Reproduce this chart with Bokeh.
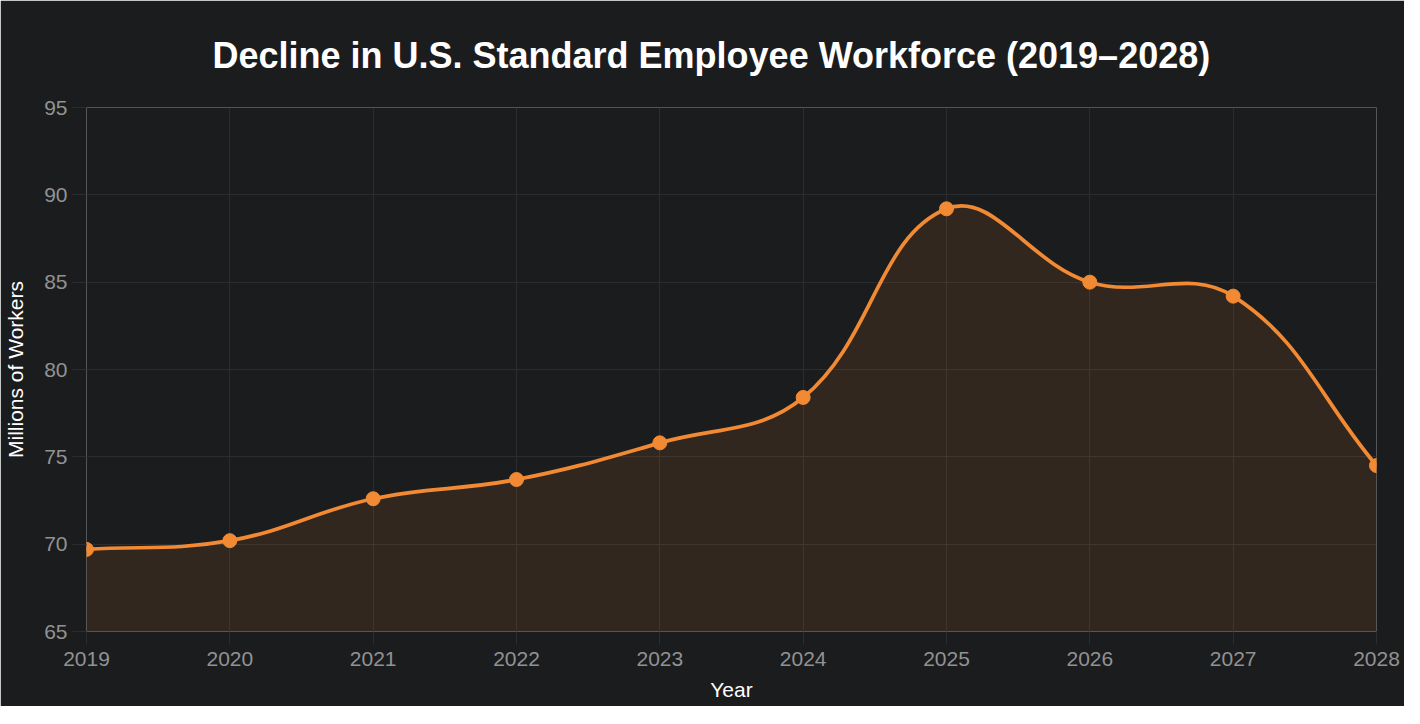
import numpy as np
from bokeh.plotting import figure
from bokeh.models import FixedTicker, ColumnDataSource
from bokeh.embed import file_html
from bokeh.resources import INLINE

# ---- data ----
years = [2019, 2020, 2021, 2022, 2023, 2024, 2025, 2026, 2027, 2028]
workers = [69.7, 70.2, 72.6, 73.7, 75.8, 78.4, 89.2, 85.0, 84.2, 74.5]
y_ticks = [65, 70, 75, 80, 85, 90, 95]
title_text = "Decline in U.S. Standard Employee Workforce (2019\u20132028)"
x_label = "Year"
y_label = "Millions of Workers"

BG = "#1b1c1e"
GRID = "#2c2d30"
ORANGE = "#f28a33"
TICK_TXT = "#929292"
FONT = "Liberation Sans"

W, H = 1404, 706
p = figure(width=W, height=H, output_backend="svg", toolbar_location=None,
           x_range=(2019, 2028), y_range=(65, 95),
           min_border_left=86, min_border_right=28,
           min_border_top=106, min_border_bottom=75)
p.background_fill_color = BG
p.border_fill_color = BG
p.outline_line_color = None

# ---- smooth curve (Chart.js-style spline, tension 0.4) from the data ----
xs = np.array(years, dtype=float)
ys = np.array(workers, dtype=float)
sx = 1290.0 / 9.0   # px per year (aspect only, for control-point weighting)
sy = 525.0 / 30.0   # px per million
X, Y = xs * sx, ys * sy
n = len(xs)
t = 0.4
prev_cp, next_cp = [], []
for i in range(n):
    i0 = i - 1 if i > 0 else i
    i2 = i + 1 if i < n - 1 else i
    d01 = np.hypot(X[i] - X[i0], Y[i] - Y[i0])
    d12 = np.hypot(X[i2] - X[i], Y[i2] - Y[i])
    tot = d01 + d12
    s01 = d01 / tot if tot else 0.0
    s12 = d12 / tot if tot else 0.0
    fa, fb = t * s01, t * s12
    dx, dy = X[i2] - X[i0], Y[i2] - Y[i0]
    prev_cp.append(((X[i] - fa * dx) / sx, (Y[i] - fa * dy) / sy))
    next_cp.append(((X[i] + fb * dx) / sx, (Y[i] + fb * dy) / sy))

seg = dict(x0=xs[:-1], y0=ys[:-1], x1=xs[1:], y1=ys[1:],
           cx0=[next_cp[i][0] for i in range(n - 1)],
           cy0=[next_cp[i][1] for i in range(n - 1)],
           cx1=[prev_cp[i + 1][0] for i in range(n - 1)],
           cy1=[prev_cp[i + 1][1] for i in range(n - 1)])

# fill polygon following the same bezier segments
tt = np.linspace(0, 1, 40)
fx, fy = [], []
for i in range(n - 1):
    P0 = np.array([seg["x0"][i], seg["y0"][i]])
    P1 = np.array([seg["cx0"][i], seg["cy0"][i]])
    P2 = np.array([seg["cx1"][i], seg["cy1"][i]])
    P3 = np.array([seg["x1"][i], seg["y1"][i]])
    for u in tt[:-1] if i < n - 2 else tt:
        b = ((1 - u) ** 3) * P0 + 3 * ((1 - u) ** 2) * u * P1 + 3 * (1 - u) * u * u * P2 + (u ** 3) * P3
        fx.append(b[0]); fy.append(b[1])

p.varea(x=fx, y1=65, y2=fy, fill_color=ORANGE, fill_alpha=0.1)
p.bezier(source=ColumnDataSource(seg), x0="x0", y0="y0", x1="x1", y1="y1",
         cx0="cx0", cy0="cy0", cx1="cx1", cy1="cy1",
         line_color=ORANGE, line_width=3.7, line_cap="round")
p.scatter(xs, ys, size=14, fill_color=ORANGE, line_color=ORANGE)

# ---- axes & grid ----
p.xaxis.ticker = FixedTicker(ticks=years)
p.yaxis.ticker = FixedTicker(ticks=y_ticks)
for g in (p.xgrid, p.ygrid):
    g.grid_line_color = GRID
    g.grid_line_width = 1
for ax in (p.xaxis, p.yaxis):
    ax.axis_line_color = None
    ax.major_tick_line_color = GRID
    ax.major_tick_in = 0
    ax.minor_tick_line_color = None
    ax.major_label_text_color = TICK_TXT
    ax.major_label_text_font = FONT
    ax.major_label_text_font_size = "21px"
    ax.axis_label_text_color = "#ffffff"
    ax.axis_label_text_font = FONT
    ax.axis_label_text_font_size = "21px"
    ax.axis_label_text_font_style = "normal"
p.xaxis.axis_label = x_label
p.yaxis.axis_label = y_label
p.xaxis.major_tick_out = 13
p.yaxis.major_tick_out = 14
p.xaxis.major_label_standoff = 7
p.yaxis.major_label_standoff = 5
p.xaxis.axis_label_standoff = 9
p.yaxis.axis_label_standoff = 14

p.title.text = title_text
p.title.text_color = "#ffffff"
p.title.text_font = FONT
p.title.text_font_size = "36px"
p.title.text_font_style = "bold"
p.title.align = "left"
p.title.offset = 126
p.title.standoff = 64

open("out.html", "w").write(file_html(p, INLINE))
